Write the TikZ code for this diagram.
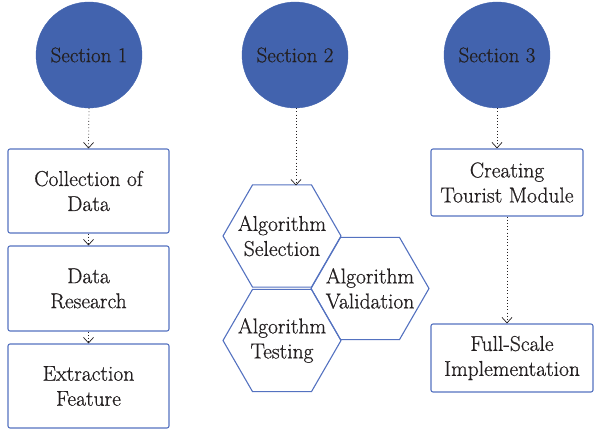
\documentclass[tikz,border=0pt]{standalone}
\usepackage{fontspec}
\newfontfamily\diagfont{Latin Modern Roman}[FakeBold=0.7]
\usetikzlibrary{arrows.meta,shapes.geometric}
\definecolor{secblue}{RGB}{66,99,174}
\definecolor{boxblue}{RGB}{84,114,192}
\definecolor{txt}{RGB}{35,31,32}
\begin{document}
\begin{tikzpicture}[x=1pt,y={(0pt,-1pt)},
  section/.style={circle,fill=secblue,draw=secblue,minimum size=106pt,inner sep=0pt,text=txt,font=\diagfont\fontsize{21}{24}\selectfont},
  stepbox/.style={draw=boxblue,line width=1.1pt,rounded corners=2pt,text=txt,align=center,font=\diagfont\fontsize{21.5}{25}\selectfont},
  hexa/.style={draw=boxblue,line width=1.1pt,regular polygon,regular polygon sides=6,minimum size=118pt,inner sep=0pt},
  hextext/.style={text=txt,align=center,font=\diagfont\fontsize{21.5}{25}\selectfont},
  flow/.style={line width=0.7pt,dash pattern=on 0.8pt off 2.4pt,-{Straight Barb[width=10pt,length=5.5pt,line width=0.7pt]},txt}
]
\useasboundingbox (0,0) rectangle (594,430);
% circles
\node[section] (s1) at (89,55) {Section 1};
\node[section] (s2) at (295,55) {Section 2};
\node[section] (s3) at (497,55) {Section 3};
% column 1
\node[stepbox,minimum width=161pt,minimum height=84pt] (b1) at (88.5,191) {Collection of\\Data};
\node[stepbox,minimum width=161pt,minimum height=85pt] (b2) at (88.5,288.5) {Data\\Research};
\node[stepbox,minimum width=161pt,minimum height=84pt] (b3) at (88.5,386) {Extraction\\Feature};
\draw[flow] (s1.south) -- (b1.north);
\draw[flow] (b1.south) -- (b2.north);
\draw[flow] (b2.south) -- (b3.north);
% column 2 hexagons
\node[hexa] (h1) at (282,236) {};
\node[hexa] (h2) at (370,288.5) {};
\node[hexa] (h3) at (282,340.5) {};
\node[hextext] (t1) at (h1.center) {Algorithm\\Selection};
\node[hextext] (t2) at (h2.center) {Algorithm\\Validation};
\node[hextext] (t3) at (h3.center) {Algorithm\\Testing};
\coordinate (a2) at (296,185.5);
\draw[flow] (s2.south -| a2) -- (a2);
% column 3
\node[stepbox,minimum width=152pt,minimum height=67pt] (c1) at (507,182.5) {Creating\\Tourist Module};
\node[stepbox,minimum width=162pt,minimum height=68pt] (c2) at (512,358) {Full-Scale\\Implementation};
\draw[flow] (s3.south) -- (s3.south |- c1.north);
\draw[flow] (c1.south) -- (c2.north -| c1.south);
\end{tikzpicture}
\end{document}
